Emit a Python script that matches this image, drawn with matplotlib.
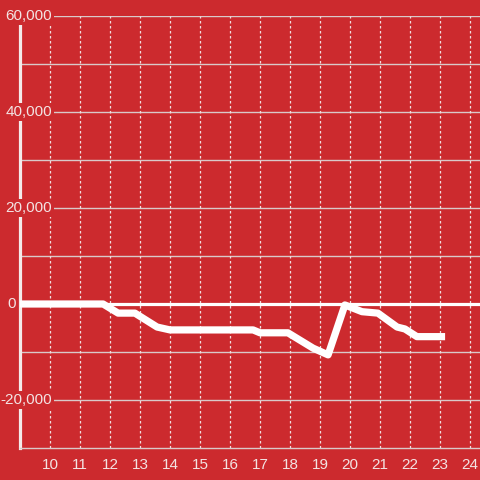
import matplotlib
matplotlib.use("Agg")
import matplotlib.pyplot as plt
import matplotlib.transforms as mtransforms

# hour of day vs value
hours = [9.0, 11.77, 12.27, 12.83, 13.57, 14.0, 16.77, 17.0, 17.93, 18.77,
         19.27, 19.83, 20.4, 20.93, 21.57, 21.83, 22.23, 23.17]
values = [0, 0, -1900, -1900, -4800, -5400, -5400, -6000, -6000, -9200,
          -10600, -200, -1600, -1900, -4800, -5200, -6800, -6800]

x_ticks = list(range(10, 25))
y_labels = [60000, 40000, 20000, 0, -20000]
y_grid = list(range(-20000, 60001, 10000))

BG = '#cc2a2e'
TXT = '#f3e3e3'
GRID = '#d9c9c9'

plt.rcParams['font.family'] = ['Liberation Sans', 'DejaVu Sans']

fig = plt.figure(figsize=(4.8, 4.8), dpi=100, facecolor=BG)
ax = fig.add_axes([20/480, 32/480, 460/480, 432/480], facecolor=BG)
ax.set_xlim(9, 9 + 460/30)
ax.set_ylim(-30000, 60000)

for v in y_grid:
    if v == 0:
        ax.axhline(0, color='white', lw=2.3, zorder=6)
    else:
        ax.axhline(v, color=GRID, lw=1, zorder=1)
for h in x_ticks:
    ax.axvline(h, color='#f0dede', lw=0.9, ls=(0, (2, 2)), zorder=1)

ax.plot(hours, values, color='white', lw=5.2, solid_joinstyle='round',
        solid_capstyle='butt', zorder=7)

for s in ['top', 'right']:
    ax.spines[s].set_visible(False)
ax.spines['left'].set_color('#f4eaea')
ax.spines['left'].set_linewidth(2.3)
ax.spines['bottom'].set_color(GRID)
ax.spines['bottom'].set_linewidth(1)

ax.set_yticks([])
ax.set_xticks(x_ticks)
ax.set_xticklabels([str(h) for h in x_ticks])
ax.tick_params(axis='x', length=0, pad=7, colors=TXT, labelsize=11)

trans = mtransforms.blended_transform_factory(ax.transAxes, ax.transData)
for v in y_labels:
    # the zero label sits left of the axis, the others overlap it
    xr = -4/460 if v == 0 else 32/460
    ax.text(xr, v, f'{v:,}', transform=trans, ha='right', va='center',
            color=TXT, fontsize=11, zorder=5, clip_on=False,
            bbox=dict(facecolor=BG, edgecolor='none', pad=1.5))

fig.savefig('out.png', dpi=100, facecolor=BG)
